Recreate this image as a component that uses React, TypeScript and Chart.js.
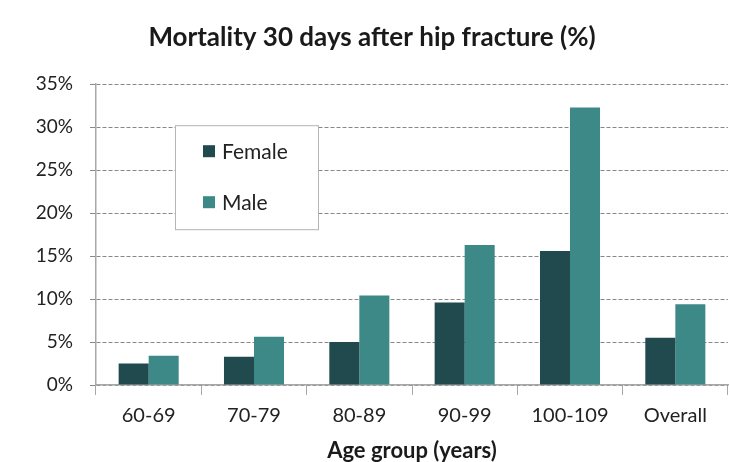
import React, { useEffect, useRef } from "react";
import { Chart, registerables } from "chart.js";

Chart.register(...registerables);

const categories = ["60-69", "70-79", "80-89", "90-99", "100-109", "Overall"];
const femaleValues = [2.5, 3.3, 5.0, 9.6, 15.6, 5.5];
const maleValues = [3.4, 5.6, 10.4, 16.3, 32.3, 9.4];
const seriesNames = ["Female", "Male"];
const yTicksMax = 35;
const titleText = "Mortality 30 days after hip fracture (%)";
const xTitleText = "Age group (years)";

const FONT = "Lato, 'Open Sans', sans-serif";

const boxLegend = {
  id: "boxLegend",
  afterDatasetsDraw(chart: any) {
    const { ctx, chartArea } = chart;
    const x = chartArea.left + 79;
    const y = chartArea.top + 41;
    const w = 143;
    const h = 104;
    ctx.save();
    ctx.fillStyle = "#ffffff";
    ctx.fillRect(x, y, w, h);
    ctx.strokeStyle = "#b5b5b5";
    ctx.lineWidth = 1;
    ctx.strokeRect(x + 0.5, y + 0.5, w, h);
    ctx.font = `21px ${FONT}`;
    ctx.textBaseline = "middle";
    chart.data.datasets.forEach((ds: any, i: number) => {
      const cy = y + 26 + i * 51;
      ctx.fillStyle = ds.backgroundColor;
      ctx.fillRect(x + 28, cy - 6, 12, 12);
      ctx.fillStyle = "#222222";
      ctx.fillText(ds.label, x + 47, cy + 1);
    });
    ctx.restore();
  },
};

export default function App() {
  const ref = useRef<HTMLCanvasElement>(null);
  useEffect(() => {
    document.body.style.margin = "0";
    const chart = new Chart(ref.current!, {
      type: "bar",
      data: {
        labels: categories,
        datasets: [
          { label: seriesNames[0], data: femaleValues, backgroundColor: "#214a4f" },
          { label: seriesNames[1], data: maleValues, backgroundColor: "#3c8987" },
        ],
      },
      options: {
        animation: false,
        responsive: false,
        maintainAspectRatio: false,
        layout: { padding: { left: 16, right: 2, top: 0, bottom: 0 } },
        datasets: { bar: { categoryPercentage: 0.57, barPercentage: 1 } },
        plugins: {
          legend: { display: false },
          tooltip: { enabled: false },
          title: {
            display: true,
            text: titleText,
            color: "#1a1a1a",
            font: { family: FONT, size: 26, weight: "bold", lineHeight: 1.2 },
            padding: { top: 22, bottom: 31 },
          },
        },
        scales: {
          x: {
            afterFit: (s: any) => { s.height = 77; },
            grid: {
              display: true,
              drawOnChartArea: false,
              drawTicks: true,
              tickLength: 10,
              color: "#a8a8a8",
            },
            border: { display: true, color: "#a8a8a8", width: 1.5 },
            ticks: {
              color: "#222222",
              font: { family: FONT, size: 20 },
              padding: 9,
            },
            title: {
              display: true,
              text: xTitleText,
              color: "#1a1a1a",
              font: { family: FONT, size: 22, weight: "bold", lineHeight: 1 },
              padding: { top: 0, bottom: 0 },
            },
          },
          y: {
            afterFit: (s: any) => { s.width = 80; },
            min: 0,
            max: yTicksMax,
            ticks: {
              stepSize: 5,
              color: "#222222",
              font: { family: FONT, size: 19 },
              padding: 17,
              callback: (v: any) => v + "%",
            },
            grid: {
              color: "#888888",
              tickLength: 6,
              lineWidth: 1,
            },
            border: { display: true, color: "#a8a8a8", width: 1.5, dash: [4, 2] },
          },
        },
      },
      plugins: [boxLegend],
    });
    return () => chart.destroy();
  }, []);
  return (
    <div style={{ position: "fixed", left: 0, top: 0, width: 730, height: 462, background: "#fff" }}>
      <canvas ref={ref} width={730} height={462} style={{ width: 730, height: 462 }} />
    </div>
  );
}
